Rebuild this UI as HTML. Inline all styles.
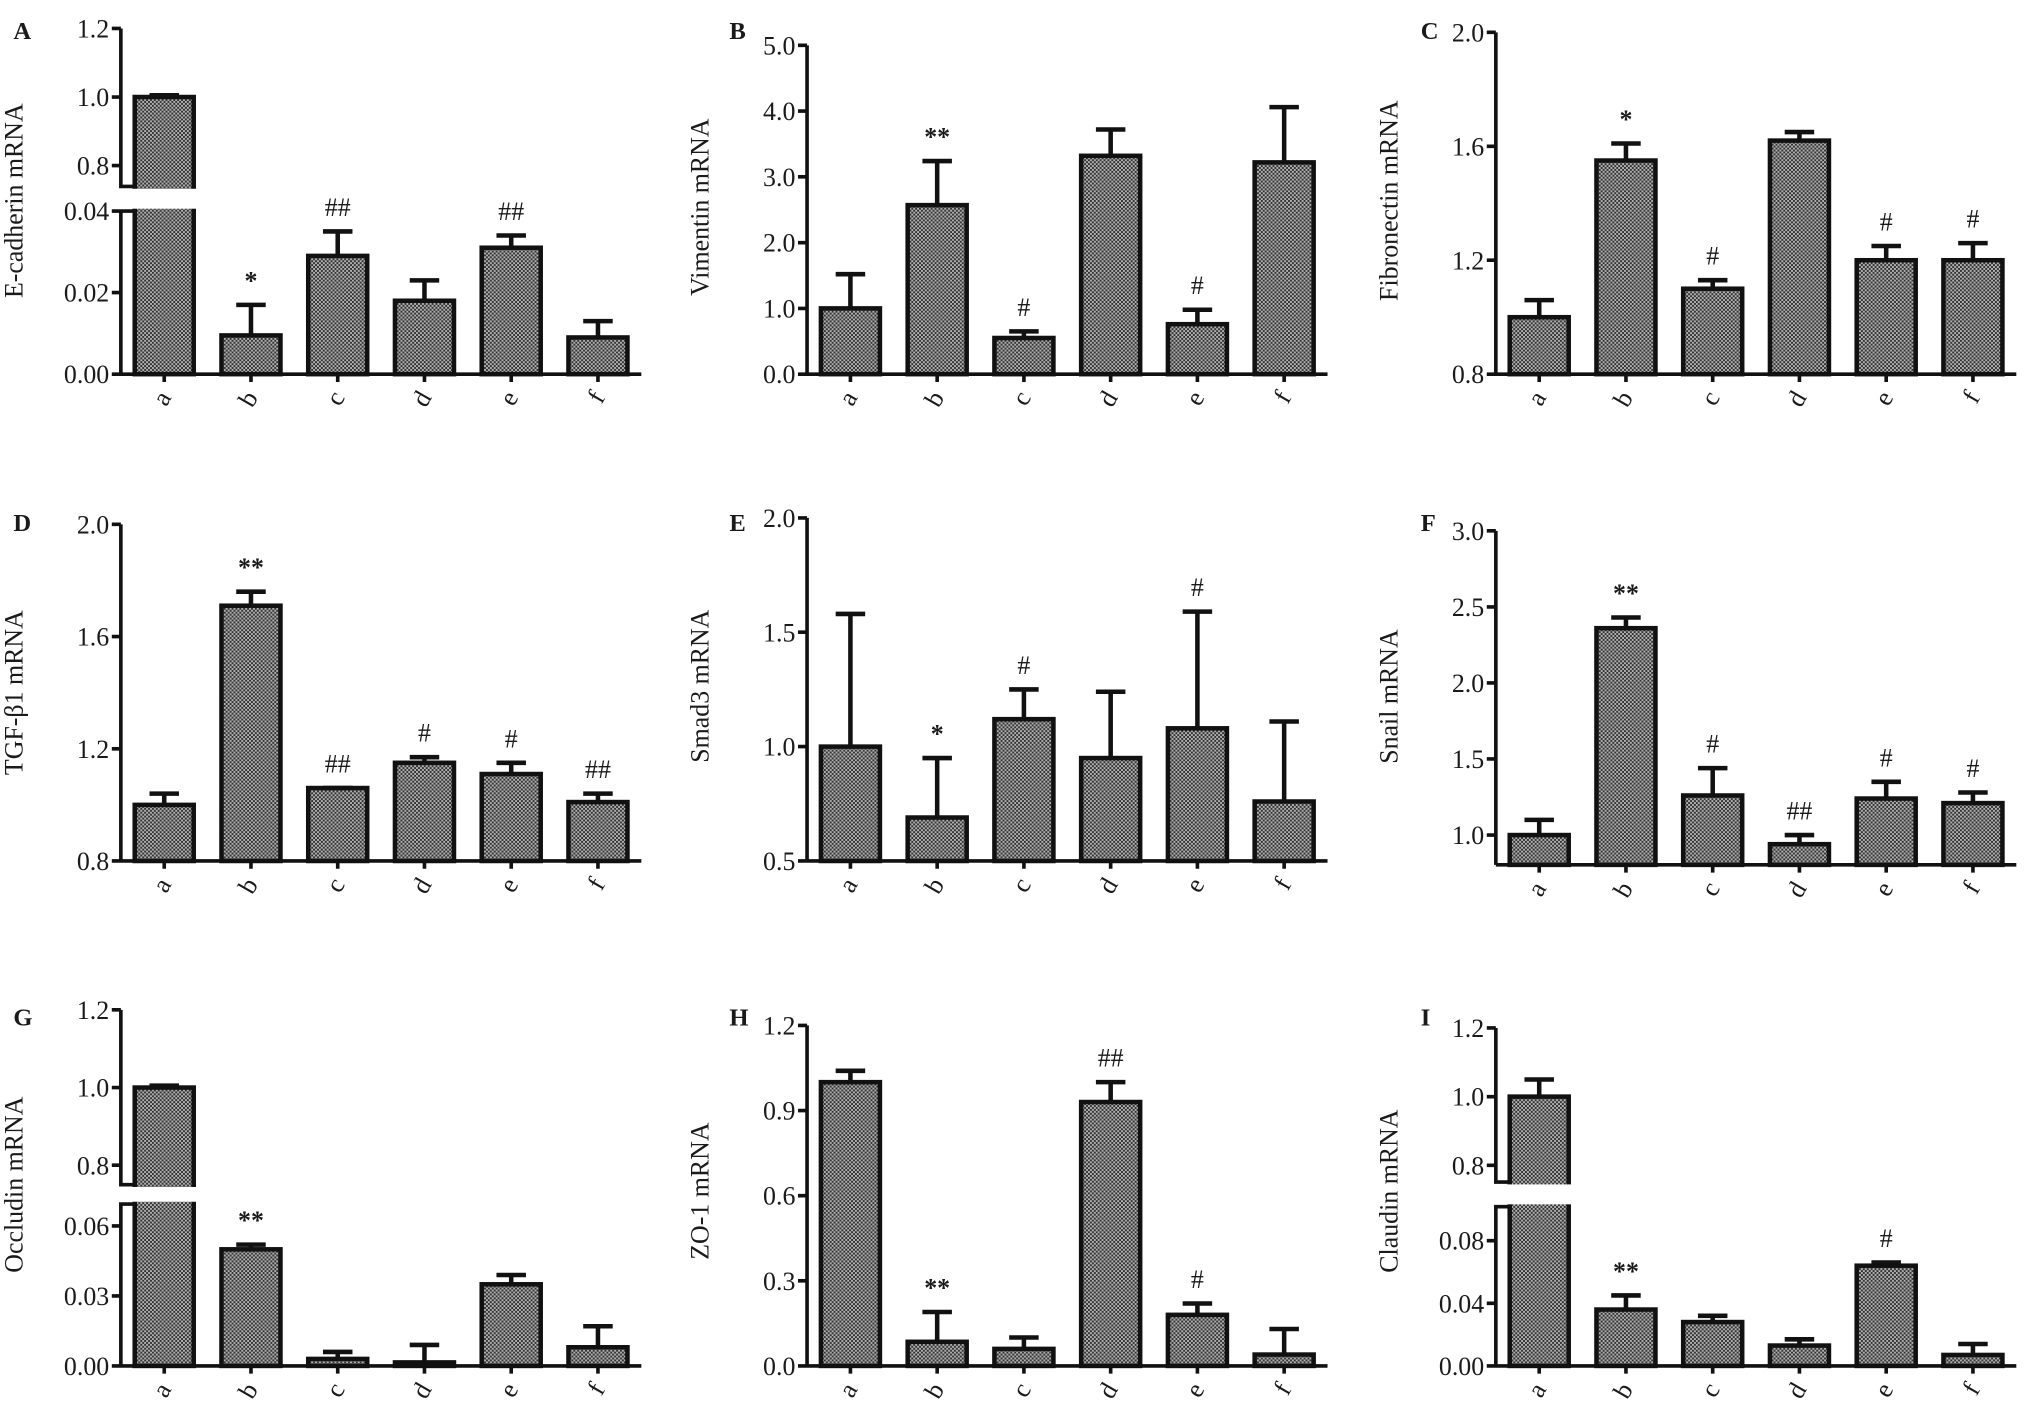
<!DOCTYPE html>
<html><head><meta charset="utf-8"><style>
html,body{margin:0;padding:0;background:#fff;}
svg{display:block;}
text{font-family:"Liberation Serif",serif;fill:#1a1a1a;}
</style></head><body>
<svg id="fig" width="2031" height="1419" viewBox="0 0 1568 1096" xmlns="http://www.w3.org/2000/svg">
<defs>
<pattern id="chk" width="3" height="3" patternUnits="userSpaceOnUse">
<rect width="3" height="3" fill="#b0b0b0"/><rect width="1.5" height="1.5" fill="#333"/><rect x="1.5" y="1.5" width="1.5" height="1.5" fill="#333"/>
</pattern>
</defs>
</svg>
<script>
const categories = ["a","b","c","d","e","f"];
const meanA = [1.0,0.0095,0.029,0.018,0.031,0.009];
const errA  = [1.005,0.017,0.035,0.023,0.034,0.013];
const sigA  = ["","*","##","","##",""];
const meanB = [1.0,2.57,0.55,3.32,0.76,3.22];
const errB  = [1.52,3.24,0.65,3.72,0.98,4.06];
const sigB  = ["","**","#","","#",""];
const meanC = [1.0,1.55,1.10,1.62,1.20,1.20];
const errC  = [1.06,1.61,1.13,1.65,1.25,1.26];
const sigC  = ["","*","#","","#","#"];
const meanD = [1.0,1.71,1.06,1.15,1.11,1.01];
const errD  = [1.04,1.76,1.06,1.17,1.15,1.04];
const sigD  = ["","**","##","#","#","##"];
const meanE = [1.0,0.69,1.12,0.95,1.08,0.76];
const errE  = [1.58,0.95,1.25,1.24,1.59,1.11];
const sigE  = ["","*","#","","#",""];
const meanF = [1.0,2.36,1.26,0.94,1.24,1.21];
const errF  = [1.10,2.43,1.44,1.0,1.35,1.28];
const sigF  = ["","**","#","##","#","#"];
const meanG = [1.0,0.050,0.003,0.0015,0.035,0.008];
const errG  = [1.005,0.052,0.006,0.009,0.039,0.017];
const sigG  = ["","**","","","",""];
const meanH = [1.0,0.085,0.06,0.93,0.18,0.04];
const errH  = [1.04,0.19,0.10,1.0,0.22,0.13];
const sigH  = ["","**","","##","#",""];
const meanI = [1.0,0.036,0.028,0.013,0.064,0.007];
const errI  = [1.05,0.045,0.032,0.017,0.066,0.014];
const sigI  = ["","**","","","#",""];
const ticksA_low=["0.00","0.02","0.04"], ticksA_up=["0.8","1.0","1.2"];
const ticksB=["0.0","1.0","2.0","3.0","4.0","5.0"];
const ticksC=["0.8","1.2","1.6","2.0"];
const ticksD=["0.8","1.2","1.6","2.0"];
const ticksE=["0.5","1.0","1.5","2.0"];
const ticksF=["1.0","1.5","2.0","2.5","3.0"];
const ticksG_low=["0.00","0.03","0.06"], ticksG_up=["0.8","1.0","1.2"];
const ticksH=["0.0","0.3","0.6","0.9","1.2"];
const ticksI_low=["0.00","0.04","0.08"], ticksI_up=["0.8","1.0","1.2"];

const NS="http://www.w3.org/2000/svg";
const svg=document.getElementById('fig');
function el(tag,attrs,parent){const e=document.createElementNS(NS,tag);for(const k in attrs)e.setAttribute(k,attrs[k]);(parent||svg).appendChild(e);return e;}

function makeScale(cfg){
  if(!cfg.broken){return v=>cfg.y0-(v-cfg.min)/(cfg.max-cfg.min)*(cfg.y0-cfg.yTop);}
  return v=>{
    if(v<=cfg.lowTop) return cfg.y0 - v/cfg.lowTop*(cfg.y0-cfg.yLowTop);
    if(v>=cfg.upBot) return cfg.yUpBot-(v-cfg.upBot)/(cfg.upTop-cfg.upBot)*(cfg.yUpBot-cfg.yUpTop);
    return (cfg.yUpBot+cfg.yLowTop)/2;
  };
}

function panel(cfg,means,errs,sigs){
  const g=el('g',{});
  
  
  const y=makeScale(cfg);
  const x0=cfg.x0,x1=cfg.x0+402,band=(x1-x0)/categories.length,bw=band*0.68;
  const xc=i=>x0+(i+0.5)*band;
  const L=el('text',{x:cfg.lx,y:cfg.ly,'font-size':19,'font-weight':'bold'},g);L.textContent=cfg.letter;
  
  
  const T=el('text',{x:0,y:0,'font-size':20,'text-anchor':'middle',transform:`translate(${x0-76},${cfg.tyc}) rotate(-90)`},g);T.textContent=cfg.title;
  
  
  categories.forEach((c,i)=>{
    const top=y(means[i]);
    const r=el('rect',{x:xc(i)-bw/2,y:top,width:bw,height:cfg.y0-top,fill:'url(#chk)',stroke:'#111','stroke-width':3.5},g);
    
    
    const et=y(errs[i]);
    const e=el('path',{d:`M${xc(i)},${top}V${et}M${xc(i)-bw/4},${et}H${xc(i)+bw/4}`,stroke:'#111','stroke-width':3.5,fill:'none'},g);
    
    
    if(sigs[i]){const s=el('text',{x:xc(i),y:et-12,'font-size':20,'text-anchor':'middle','font-weight':sigs[i].startsWith('*')?'bold':'normal'},g);s.textContent=sigs[i];
      
      }
    const tl=el('text',{x:0,y:0,'font-size':20,'text-anchor':'end',transform:`translate(${xc(i)+6},${cfg.y0+18}) rotate(-60)`},g);tl.textContent=c;
    
    
  });
  let ax='';
  if(cfg.broken){
    el('rect',{x:x0+2,y:cfg.yUpBot+1.8,width:bw+20,height:cfg.yLowTop-cfg.yUpBot-3.6,fill:'#fff'},g);
    ax=`M${x0},${cfg.yUpTop}V${cfg.yUpBot}H${x0+10}M${x0},${cfg.y0}V${cfg.yLowTop}H${x0+10}`;
  } else ax=`M${x0},${cfg.yTop}V${cfg.y0}`;
  ax+=`M${x0},${cfg.y0}H${x1}`;
  categories.forEach((c,i)=>{ax+=`M${xc(i)},${cfg.y0}v6`;});
  const tickSets=cfg.broken?[cfg.tl,cfg.tu]:[cfg.ticks];
  tickSets.forEach(ts=>ts.forEach(t=>{const yy=y(parseFloat(t));ax+=`M${x0},${yy}h-7`;
    const tt=el('text',{x:x0-9,y:yy+7,'font-size':20,'text-anchor':'end'},g);tt.textContent=t;
    
    }));
  const a=el('path',{d:ax,stroke:'#111','stroke-width':2.8,fill:'none'},g);
  
  
}

panel({letter:'A',lx:10,ly:30,x0:93,y0:289,tyc:155,title:'E-cadherin mRNA',broken:true,lowTop:0.04,yLowTop:163,upBot:0.739,upTop:1.2,yUpBot:144,yUpTop:22,tl:ticksA_low,tu:ticksA_up},meanA,errA,sigA);
panel({letter:'B',lx:563,ly:30,x0:623,y0:289,tyc:160,title:'Vimentin mRNA',min:0,max:5,yTop:35,ticks:ticksB},meanB,errB,sigB);
panel({letter:'C',lx:1097,ly:30,x0:1155,y0:289,tyc:155,title:'Fibronectin mRNA',min:0.8,max:2.0,yTop:25,ticks:ticksC},meanC,errC,sigC);
panel({letter:'D',lx:10,ly:410,x0:93,y0:665,tyc:535,title:'TGF-β1 mRNA',min:0.8,max:2.0,yTop:405,ticks:ticksD},meanD,errD,sigD);
panel({letter:'E',lx:563,ly:410,x0:623,y0:665,tyc:530,title:'Smad3 mRNA',min:0.5,max:2.0,yTop:400,ticks:ticksE},meanE,errE,sigE);
panel({letter:'F',lx:1097,ly:410,x0:1155,y0:668,tyc:538,title:'Snail mRNA',min:0.804,max:3.0,yTop:410,ticks:ticksF},meanF,errF,sigF);
panel({letter:'G',lx:10,ly:792,x0:93,y0:1055,tyc:915,title:'Occludin mRNA',broken:true,lowTop:0.0694,yLowTop:930,upBot:0.75,upTop:1.2,yUpBot:915,yUpTop:780,tl:ticksG_low,tu:ticksG_up},meanG,errG,sigG);
panel({letter:'H',lx:563,ly:792,x0:623,y0:1055,tyc:920,title:'ZO-1 mRNA',min:0,max:1.2,yTop:792,ticks:ticksH},meanH,errH,sigH);
panel({letter:'I',lx:1097,ly:792,x0:1155,y0:1055,tyc:920,title:'Claudin mRNA',broken:true,lowTop:0.1017,yLowTop:932,upBot:0.751,upTop:1.2,yUpBot:913,yUpTop:794,tl:ticksI_low,tu:ticksI_up},meanI,errI,sigI);
</script>
</body></html>
